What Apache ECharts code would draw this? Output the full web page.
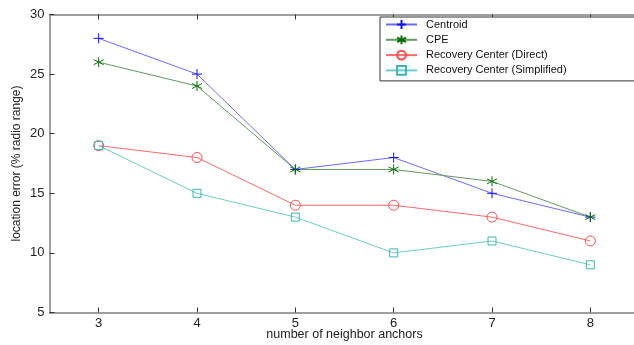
<!DOCTYPE html>
<html><head><meta charset="utf-8">
<script src="https://cdn.jsdelivr.net/npm/echarts@6/dist/echarts.min.js"></script>
<style>html,body{margin:0;padding:0;background:#fff}#c{width:634px;height:345px}</style>
</head><body><div id="c"></div>
<script>
const categories = [3, 4, 5, 6, 7, 8];
const centroid = [28, 25, 17, 18, 15, 13];
const cpe = [26, 24, 17, 17, 16, 13];
const rcDirect = [19, 18, 14, 14, 13, 11];
const rcSimplified = [19, 15, 13, 10, 11, 9];
const yTicks = [5, 10, 15, 20, 25, 30];

const plusPath = 'path://M0,5L10,5M5,0L5,10';
const starPath = 'path://M5,0L5,10M0.7,2.5L9.3,7.5M0.7,7.5L9.3,2.5';

function pairs(vals){ return categories.map((c,i)=>[c, vals[i]]); }
function mk(name, vals, lineColor, markColor, symbol, size){
  return {
    name, type:'line', data: pairs(vals), symbol, symbolSize:size,
    lineStyle:{color:lineColor, width:1},
    itemStyle:{color:'rgba(255,255,255,0)', borderColor: markColor, borderWidth:1},
    emphasis:{disabled:true}, animation:false
  };
}
const axisGray = '#808080';
const font = 'Liberation Sans, Arial, sans-serif';
const chart = echarts.init(document.getElementById('c'));
chart.setOption({
  animation:false,
  grid:{left:49.5, top:14.5, width:590, height:298, containLabel:false, outerBoundsMode:'none'},
  legend:{
    orient:'vertical', left:380, top:17,
    backgroundColor:'#fff', borderColor:'#333', borderWidth:1,
    padding:[2,90,5,5], itemGap:4.3, itemWidth:31, itemHeight:11,
    textStyle:{fontFamily:font, fontSize:11, color:'#111', padding:[0,0,0,4]},
    data:['Centroid','CPE','Recovery Center (Direct)','Recovery Center (Simplified)']
  },
  xAxis:[{
    type:'value', min:2.5, max:8.5,
    axisLine:{lineStyle:{color:axisGray, width:1.5}},
    axisTick:{inside:true, length:5, lineStyle:{color:'#333'}, customValues:categories},
    axisLabel:{color:'#222', fontSize:13, fontFamily:font, margin:4, customValues:categories},
    splitLine:{show:false},
    name:'number of neighbor anchors', nameLocation:'middle', nameGap:16, nameMoveOverlap:false,
    nameTextStyle:{color:'#222', fontSize:12.5, fontFamily:font, verticalAlign:'top'}
  },{
    type:'value', position:'top', min:2.5, max:8.5,
    axisLine:{lineStyle:{color:axisGray, width:1.5}},
    axisTick:{show:true, inside:true, length:5, lineStyle:{color:'#333'}, customValues:categories},
    axisLabel:{show:false}, splitLine:{show:false}
  }],
  yAxis:[{
    type:'value', min:5, max:30, interval:5,
    axisLine:{show:true, lineStyle:{color:axisGray, width:1.5}},
    axisTick:{show:true, inside:true, length:5, lineStyle:{color:'#333'}, customValues:yTicks},
    axisLabel:{color:'#222', fontSize:13, fontFamily:font, margin:5, customValues:yTicks},
    splitLine:{show:false},
    name:'location error (% radio range)', nameLocation:'middle', nameGap:27, nameMoveOverlap:false,
    nameTextStyle:{color:'#222', fontSize:12, fontFamily:font, verticalAlign:'bottom'}
  },{
    type:'value', position:'right', min:5, max:30, interval:5,
    axisLine:{show:true, lineStyle:{color:axisGray, width:1.5}},
    axisTick:{show:true, inside:true, length:5, lineStyle:{color:'#333'}, customValues:yTicks},
    axisLabel:{show:false}, splitLine:{show:false}
  }],
  series:[
    mk('Centroid', centroid, '#6a6aff', '#1010ff', plusPath, 10),
    mk('CPE', cpe, '#5f9a5f', '#0a6e0a', starPath, 10),
    mk('Recovery Center (Direct)', rcDirect, '#ff6a6a', '#ff4a4a', 'circle', 10),
    mk('Recovery Center (Simplified)', rcSimplified, '#6acccc', '#3cb4b4', 'rect', 8)
  ]
});
</script></body></html>
